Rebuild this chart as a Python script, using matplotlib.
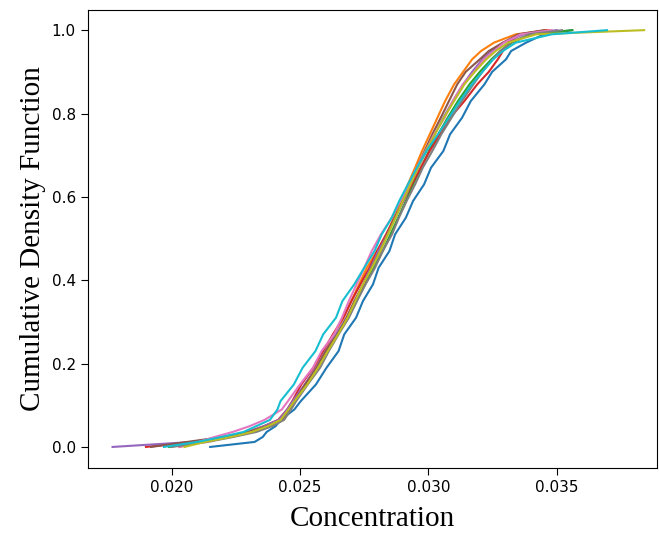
import matplotlib
matplotlib.use("Agg")
from matplotlib import pyplot as plt

# cumulative levels shared by all runs
cdf_levels = [0.0, 0.012, 0.024, 0.036, 0.05, 0.065, 0.09, 0.11, 0.15, 0.19,
              0.23, 0.27, 0.31, 0.35, 0.39, 0.43, 0.47, 0.51, 0.55, 0.59,
              0.63, 0.67, 0.71, 0.75, 0.79, 0.83, 0.87, 0.90, 0.93, 0.95,
              0.97, 0.99, 1.0]

# concentration reached at each level, one list per run (C0..C9)
run_0 = [0.02150, 0.02323, 0.02355, 0.02370, 0.02405, 0.02425, 0.02478, 0.02503, 0.02562, 0.02603,
         0.02650, 0.02672, 0.02718, 0.02745, 0.02784, 0.02806, 0.02848, 0.02870, 0.02912, 0.02940,
         0.02983, 0.03010, 0.03058, 0.03084, 0.03131, 0.03165, 0.03218, 0.03248, 0.03302, 0.03322,
         0.03380, 0.03450, 0.03560]
run_1 = [0.02030, 0.02120, 0.02232, 0.02318, 0.02380, 0.02428, 0.02460, 0.02476, 0.02525, 0.02560,
         0.02602, 0.02630, 0.02670, 0.02700, 0.02730, 0.02760, 0.02800, 0.02838, 0.02865, 0.02895,
         0.02920, 0.02948, 0.02975, 0.03005, 0.03035, 0.03065, 0.03100, 0.03135, 0.03170, 0.03205,
         0.03255, 0.03340, 0.03470]
run_2 = [0.01990, 0.02115, 0.02225, 0.02310, 0.02370, 0.02425, 0.02455, 0.02475, 0.02522, 0.02565,
         0.02605, 0.02642, 0.02688, 0.02718, 0.02752, 0.02788, 0.02822, 0.02852, 0.02882, 0.02912,
         0.02940, 0.02972, 0.03002, 0.03038, 0.03075, 0.03115, 0.03160, 0.03200, 0.03245, 0.03280,
         0.03325, 0.03400, 0.03560]
run_3 = [0.01900, 0.02085, 0.02210, 0.02295, 0.02360, 0.02415, 0.02450, 0.02470, 0.02505, 0.02552,
         0.02590, 0.02628, 0.02668, 0.02700, 0.02735, 0.02770, 0.02800, 0.02835, 0.02868, 0.02902,
         0.02935, 0.02970, 0.03005, 0.03045, 0.03085, 0.03140, 0.03190, 0.03235, 0.03270, 0.03290,
         0.03310, 0.03360, 0.03460]
run_4 = [0.01770, 0.02080, 0.02205, 0.02300, 0.02360, 0.02418, 0.02450, 0.02472, 0.02518, 0.02562,
         0.02600, 0.02640, 0.02680, 0.02712, 0.02745, 0.02775, 0.02805, 0.02840, 0.02870, 0.02902,
         0.02930, 0.02960, 0.02992, 0.03025, 0.03058, 0.03095, 0.03135, 0.03170, 0.03210, 0.03245,
         0.03290, 0.03370, 0.03500]
run_5 = [0.01920, 0.02060, 0.02200, 0.02300, 0.02372, 0.02430, 0.02458, 0.02480, 0.02520, 0.02565,
         0.02600, 0.02645, 0.02682, 0.02712, 0.02748, 0.02778, 0.02812, 0.02840, 0.02870, 0.02900,
         0.02928, 0.02955, 0.02985, 0.03015, 0.03048, 0.03080, 0.03112, 0.03145, 0.03200, 0.03235,
         0.03290, 0.03350, 0.03450]
run_6 = [0.02030, 0.02104, 0.02168, 0.02238, 0.02304, 0.02362, 0.02429, 0.02453, 0.02500, 0.02550,
         0.02584, 0.02632, 0.02663, 0.02690, 0.02720, 0.02750, 0.02779, 0.02815, 0.02857, 0.02890,
         0.02925, 0.02954, 0.02989, 0.03022, 0.03063, 0.03095, 0.03134, 0.03178, 0.03216, 0.03256,
         0.03294, 0.03360, 0.03480]
run_7 = [0.02000, 0.02140, 0.02240, 0.02330, 0.02392, 0.02438, 0.02465, 0.02485, 0.02530, 0.02578,
         0.02612, 0.02650, 0.02690, 0.02722, 0.02755, 0.02792, 0.02822, 0.02858, 0.02885, 0.02915,
         0.02948, 0.02978, 0.03015, 0.03050, 0.03090, 0.03130, 0.03175, 0.03210, 0.03250, 0.03280,
         0.03320, 0.03390, 0.03520]
run_8 = [0.02050, 0.02130, 0.02230, 0.02312, 0.02375, 0.02425, 0.02455, 0.02478, 0.02528, 0.02570,
         0.02608, 0.02648, 0.02685, 0.02715, 0.02745, 0.02780, 0.02812, 0.02842, 0.02872, 0.02900,
         0.02930, 0.02960, 0.02990, 0.03025, 0.03060, 0.03100, 0.03140, 0.03180, 0.03225, 0.03262,
         0.03310, 0.03420, 0.03840]
run_9 = [0.01970, 0.02099, 0.02195, 0.02280, 0.02330, 0.02383, 0.02412, 0.02424, 0.02476, 0.02510,
         0.02560, 0.02590, 0.02640, 0.02665, 0.02711, 0.02750, 0.02790, 0.02818, 0.02857, 0.02886,
         0.02920, 0.02955, 0.02992, 0.03037, 0.03080, 0.03122, 0.03169, 0.03210, 0.03252, 0.03290,
         0.03340, 0.03480, 0.03695]

runs = [run_0, run_1, run_2, run_3, run_4, run_5, run_6, run_7, run_8, run_9]


if __name__ == "__main__":

    fig = plt.figure(figsize=(6.59, 5.34), dpi=100)
    ax = fig.add_axes([0.133, 0.124, 0.864, 0.857])

    for run in runs:
        ax.plot(run, cdf_levels, linewidth=1.5)

    ax.set_xlim(0.01673, 0.0389)
    ax.set_ylim(-0.05, 1.048)
    ax.set_xticks([0.020, 0.025, 0.030, 0.035])
    ax.set_yticks([0.0, 0.2, 0.4, 0.6, 0.8, 1.0])
    ax.tick_params(labelsize=11, length=5)

    ax.set_xlabel("Concentration", family="Liberation Serif", fontsize=21, labelpad=8)
    ax.set_ylabel("Cumulative Density Function", family="Liberation Serif", fontsize=21)

    fig.savefig("out.png", dpi=100)
    plt.close(fig)
